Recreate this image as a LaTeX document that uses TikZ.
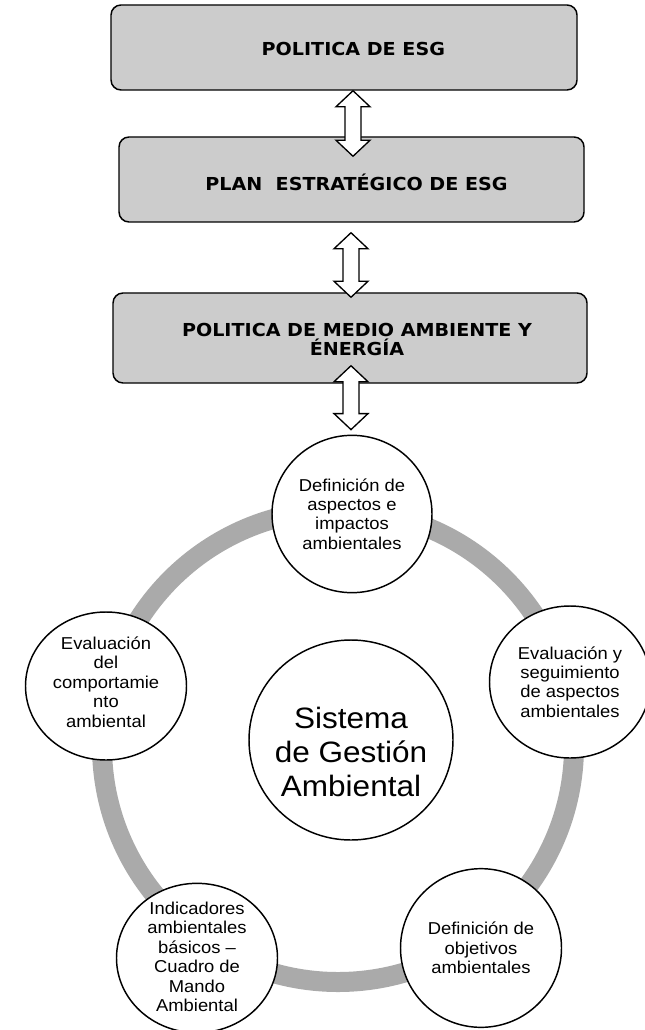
\documentclass[tikz,border=0pt]{standalone}
\usepackage{fontspec}
\setmainfont{Liberation Sans}
\newfontfamily\boxfont[FakeStretch=1.07]{DejaVu Sans}
\newfontfamily\circfont[FakeStretch=1.07]{Liberation Sans}
\usetikzlibrary{shapes.geometric,calc}
\definecolor{boxgray}{HTML}{CCCCCC}
\definecolor{ringgray}{HTML}{AAAAAA}
\tikzset{
  esgbox/.style={draw, line width=1.1pt, fill=boxgray, rounded corners=7.5pt},
  boxtxt/.style={font=\boxfont\bfseries\fontsize{13.4}{14.3}\selectfont, align=center},
  stage/.style={draw, ellipse, line width=1.1pt, fill=white, inner sep=0pt},
  stagetxt/.style={font=\circfont\fontsize{12.9}{14.6}\selectfont, align=center},
  blockarrow/.style={draw, line width=1pt, fill=white, line join=miter},
}
% block arrow with two heads, from top tip #1 to bottom tip #2
\newcommand\dblarrow[2]{%
  \draw[blockarrow] (#1) -- ++(17,16) -- ++(-9,0) -- ($(#2)+(8,-16)$) -- ++(9,0) -- (#2)
    -- ++(-17,-16) -- ++(9,0) -- ($(#1)+(-8,16)$) -- ++(-9,0) -- cycle;}
\begin{document}
\begin{tikzpicture}[x=0.75pt, y=-0.75pt]
  \useasboundingbox (0,0) rectangle (644,1030);
  % boxes
  \node[esgbox, minimum width=349.5pt, minimum height=63.75pt,
    label={[boxtxt, xshift=7pt, yshift=-1pt]center:POLITICA DE ESG}] (pol) at (344,47.5) {};
  \node[esgbox, minimum width=348.75pt, minimum height=63.75pt,
    label={[boxtxt, xshift=3.75pt, yshift=-2.5pt]center:PLAN\ \ ESTRATÉGICO DE ESG}] (plan) at (351.5,179.5) {};
  \node[esgbox, minimum width=355.5pt, minimum height=67.5pt,
    label={[boxtxt, xshift=5.25pt, yshift=-1pt]center:POLITICA DE MEDIO AMBIENTE Y\\ÉNERGÍA}] (mae) at (350,338) {};
  % cycle
  \draw[ringgray, line width=15pt] (338,746) circle [radius=177pt];
  \node[stage, minimum width=120pt, minimum height=118pt, label={[stagetxt]center:Definición de\\aspectos e\\impactos\\ambientales}] (defasp) at (352,514) {};
  \node[stage, minimum width=120.75pt, minimum height=114pt, label={[stagetxt]center:Evaluación y\\seguimiento\\de aspectos\\ambientales}] (evalseg) at (570,682) {};
  \node[stage, minimum width=120.75pt, minimum height=119pt, label={[stagetxt]center:Definición de\\objetivos\\ambientales}] (defobj) at (481,948) {};
  \node[stage, minimum width=120.75pt, minimum height=112pt, label={[stagetxt, yshift=1pt]center:Indicadores\\ambientales\\básicos –\\Cuadro de\\Mando\\Ambiental}] (indic) at (197,958) {};
  \node[stage, minimum width=120.75pt, minimum height=111pt, label={[stagetxt, yshift=3pt]center:Evaluación\\del\\comportamie\\nto\\ambiental}] (evalcomp) at (106,686) {};
  \node[stage, minimum width=153pt, minimum height=150pt, label={[stagetxt, yshift=-9pt, font=\circfont\fontsize{22.1}{25.5}\selectfont]center:Sistema\\de Gestión\\Ambiental}] (sga) at (351,740) {};
  % arrows
  \dblarrow{$(pol.south)+(9,0)$}{$(plan.north)+(1.5,20)$}
  \dblarrow{$(plan.south)+(-0.5,10)$}{$(mae.north)+(1,5)$}
  \dblarrow{$(mae.south)+(1,-18)$}{$(defasp.north)+(-1,-5)$}
\end{tikzpicture}
\end{document}
